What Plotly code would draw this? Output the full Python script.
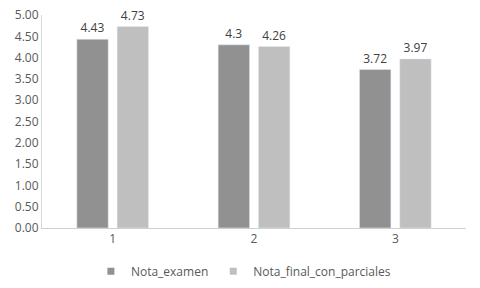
import plotly.graph_objects as go

categories = ["1", "2", "3"]
nota_examen = [4.43, 4.3, 3.72]
nota_final = [4.73, 4.26, 3.97]
y_ticks = [0, 0.5, 1, 1.5, 2, 2.5, 3, 3.5, 4, 4.5, 5]

font = dict(family="Open Sans", size=12, color="#595959")
label_font = dict(family="Open Sans", size=12, color="#404040")

fig = go.Figure()
fig.add_trace(go.Bar(
    x=categories, y=nota_examen, name="Nota_examen",
    marker=dict(color="#919191"), showlegend=False,
    text=[str(v) for v in nota_examen], textposition="outside",
    textfont=label_font, cliponaxis=False,
))
fig.add_trace(go.Bar(
    x=categories, y=nota_final, name="Nota_final_con_parciales",
    marker=dict(color="#bfbfbf"), showlegend=False,
    text=[str(v) for v in nota_final], textposition="outside",
    textfont=label_font, cliponaxis=False,
))
# legend entries with small square symbols (like the reference)
for name, color in [("Nota_examen", "#919191"), ("Nota_final_con_parciales", "#bfbfbf")]:
    fig.add_trace(go.Scatter(
        x=[None], y=[None], mode="markers", name=name,
        marker=dict(symbol="square", size=7, color=color),
    ))

fig.update_layout(
    width=480, height=288,
    margin=dict(l=42, r=14, t=15, b=60, autoexpand=False),
    paper_bgcolor="white", plot_bgcolor="white",
    font=font,
    barmode="group", bargap=0.43, bargroupgap=0.22,
    showlegend=True,
    legend=dict(orientation="h", x=0.475, xanchor="center", y=-0.135, yanchor="top",
                font=font, itemwidth=30, tracegroupgap=0),
    xaxis=dict(type="category", showline=True, linecolor="#d0d0d0", linewidth=1,
               ticks="", showgrid=False, tickfont=font),
    yaxis=dict(range=[0, 5], tickvals=y_ticks, tickformat=".2f", showline=True,
               linecolor="#d9d9d9", linewidth=1, showgrid=False, zeroline=False,
               ticks="", tickfont=font),
)
fig.write_html("out.html",
               config={"displayModeBar": False},
               post_script="document.body.style.margin='0';document.body.style.overflow='hidden';")
